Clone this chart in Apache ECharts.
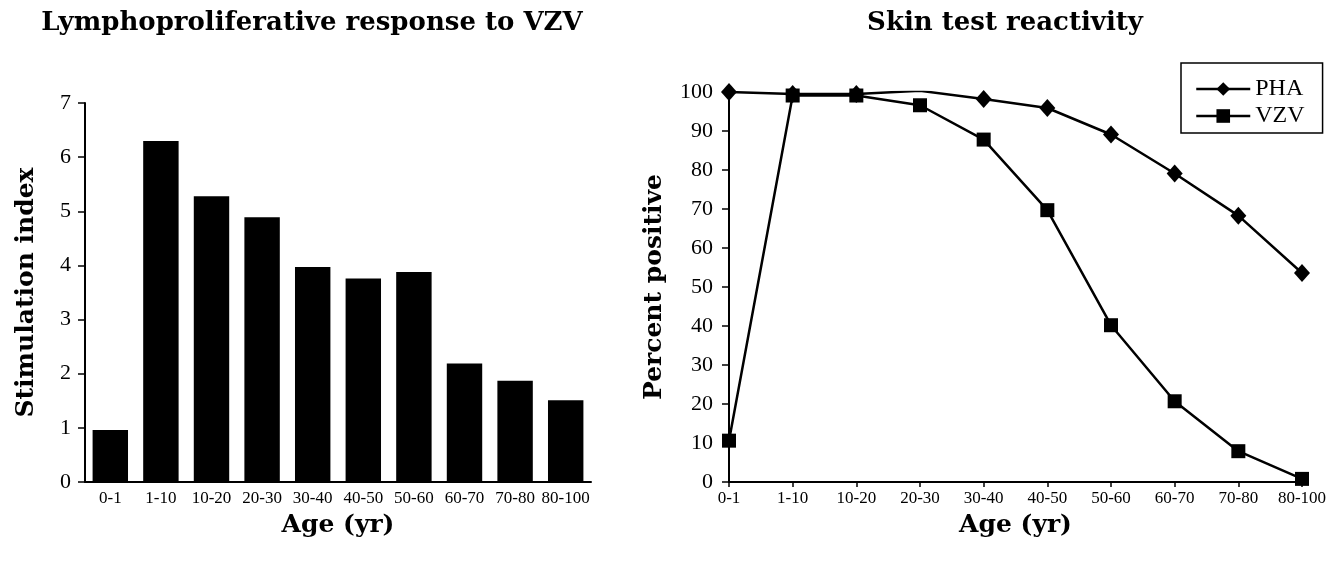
<!DOCTYPE html>
<html>
<head>
<meta charset="utf-8">
<title>VZV immunity by age</title>
<script src="https://cdn.jsdelivr.net/npm/echarts@6/dist/echarts.min.js"></script>
<style>
  html, body { margin: 0; padding: 0; background: #fff; }
  #chart { width: 1332px; height: 564px; }
</style>
</head>
<body>
<div id="chart"></div>
<script>
// age groups shared by both panels
const ageGroups = ["0-1", "1-10", "10-20", "20-30", "30-40", "40-50", "50-60", "60-70", "70-80", "80-100"];

// left panel: stimulation index
const stimulationIndex = [0.96, 6.3, 5.28, 4.89, 3.97, 3.76, 3.88, 2.19, 1.87, 1.51];

// right panel: percent positive skin test
const phaPositive = [100, 99.5, 99.5, 100.3, 98.2, 95.9, 89.1, 79.1, 68.3, 53.6];
const vzvPositive = [10.6, 99.1, 99.1, 96.6, 87.8, 69.7, 40.2, 20.7, 7.9, 0.8];

const serif = "DejaVu Serif";
const tickFont = "Liberation Serif";
const black = "#000";

const chart = echarts.init(document.getElementById("chart"), null, { renderer: "canvas" });

const axisLine = { show: true, lineStyle: { color: black, width: 2 } };
const titleStyle = { fontFamily: serif, fontWeight: "bold", fontSize: 26, color: black };
const nameStyle = { fontFamily: serif, fontWeight: "bold", fontSize: 25, color: black };

const option = {
  backgroundColor: "#fff",
  animation: false,
  title: [
    {
      text: "Lymphoproliferative response to VZV",
      left: 307,
      top: 5,
      textAlign: "center",
      textStyle: titleStyle,
    },
    {
      text: "Skin test reactivity",
      left: 1000,
      top: 5,
      textAlign: "center",
      textStyle: titleStyle,
    },
  ],
  legend: {
    data: ["PHA", "VZV"],
    orient: "vertical",
    left: 1181,
    top: 63,
    padding: [14, 18, 5, 14],
    itemGap: 3,
    itemWidth: 54,
    itemHeight: 17,
    borderColor: black,
    borderWidth: 1.5,
    lineStyle: { color: black, width: 2.5 },
    textStyle: { fontFamily: tickFont, fontSize: 24, color: black },
  },
  grid: [
    { left: 85, top: 103, width: 506, height: 379 },
    { left: 729, top: 92, width: 573, height: 390 },
  ],
  xAxis: [
    {
      gridIndex: 0,
      type: "category",
      data: ageGroups,
      axisLine: axisLine,
      axisTick: { show: false },
      axisLabel: { fontFamily: tickFont, fontSize: 17, color: black, margin: 8, interval: 0 },
      name: "Age (yr)",
      nameLocation: "middle",
      nameGap: 31,
      nameTextStyle: nameStyle,
    },
    {
      gridIndex: 1,
      type: "category",
      data: ageGroups,
      boundaryGap: false,
      axisLine: axisLine,
      axisTick: { show: true, length: 5, alignWithLabel: true, lineStyle: { color: black, width: 1.5 } },
      axisLabel: { fontFamily: tickFont, fontSize: 17, color: black, margin: 8, interval: 0 },
      name: "Age (yr)",
      nameLocation: "middle",
      nameGap: 31,
      nameTextStyle: nameStyle,
    },
  ],
  yAxis: [
    {
      gridIndex: 0,
      type: "value",
      min: 0,
      max: 7,
      interval: 1,
      axisLine: axisLine,
      axisTick: { show: true, length: 7, lineStyle: { color: black, width: 1.5 } },
      splitLine: { show: false },
      axisLabel: { fontFamily: tickFont, fontSize: 22, color: black, margin: 14 },
      name: "Stimulation index",
      nameLocation: "middle",
      nameGap: 46,
      nameRotate: 90,
      nameTextStyle: nameStyle,
    },
    {
      gridIndex: 1,
      type: "value",
      min: 0,
      max: 100,
      interval: 10,
      axisLine: axisLine,
      axisTick: { show: true, length: 7, lineStyle: { color: black, width: 1.5 } },
      splitLine: { show: false },
      axisLabel: { fontFamily: tickFont, fontSize: 22, color: black, margin: 16 },
      name: "Percent positive",
      nameLocation: "middle",
      nameGap: 62,
      nameRotate: 90,
      nameTextStyle: nameStyle,
    },
  ],
  series: [
    {
      name: "Stimulation index",
      type: "bar",
      xAxisIndex: 0,
      yAxisIndex: 0,
      data: stimulationIndex,
      barCategoryGap: "30%",
      itemStyle: { color: black },
    },
    {
      name: "PHA",
      type: "line",
      xAxisIndex: 1,
      yAxisIndex: 1,
      data: phaPositive,
      symbol: "diamond",
      symbolSize: [16, 18],
      lineStyle: { color: black, width: 2.5 },
      itemStyle: { color: black },
    },
    {
      name: "VZV",
      type: "line",
      xAxisIndex: 1,
      yAxisIndex: 1,
      data: vzvPositive,
      symbol: "rect",
      symbolSize: 14,
      lineStyle: { color: black, width: 2.5 },
      itemStyle: { color: black },
    },
  ],
};

chart.setOption(option);
window.addEventListener("resize", () => chart.resize());
</script>
</body>
</html>
